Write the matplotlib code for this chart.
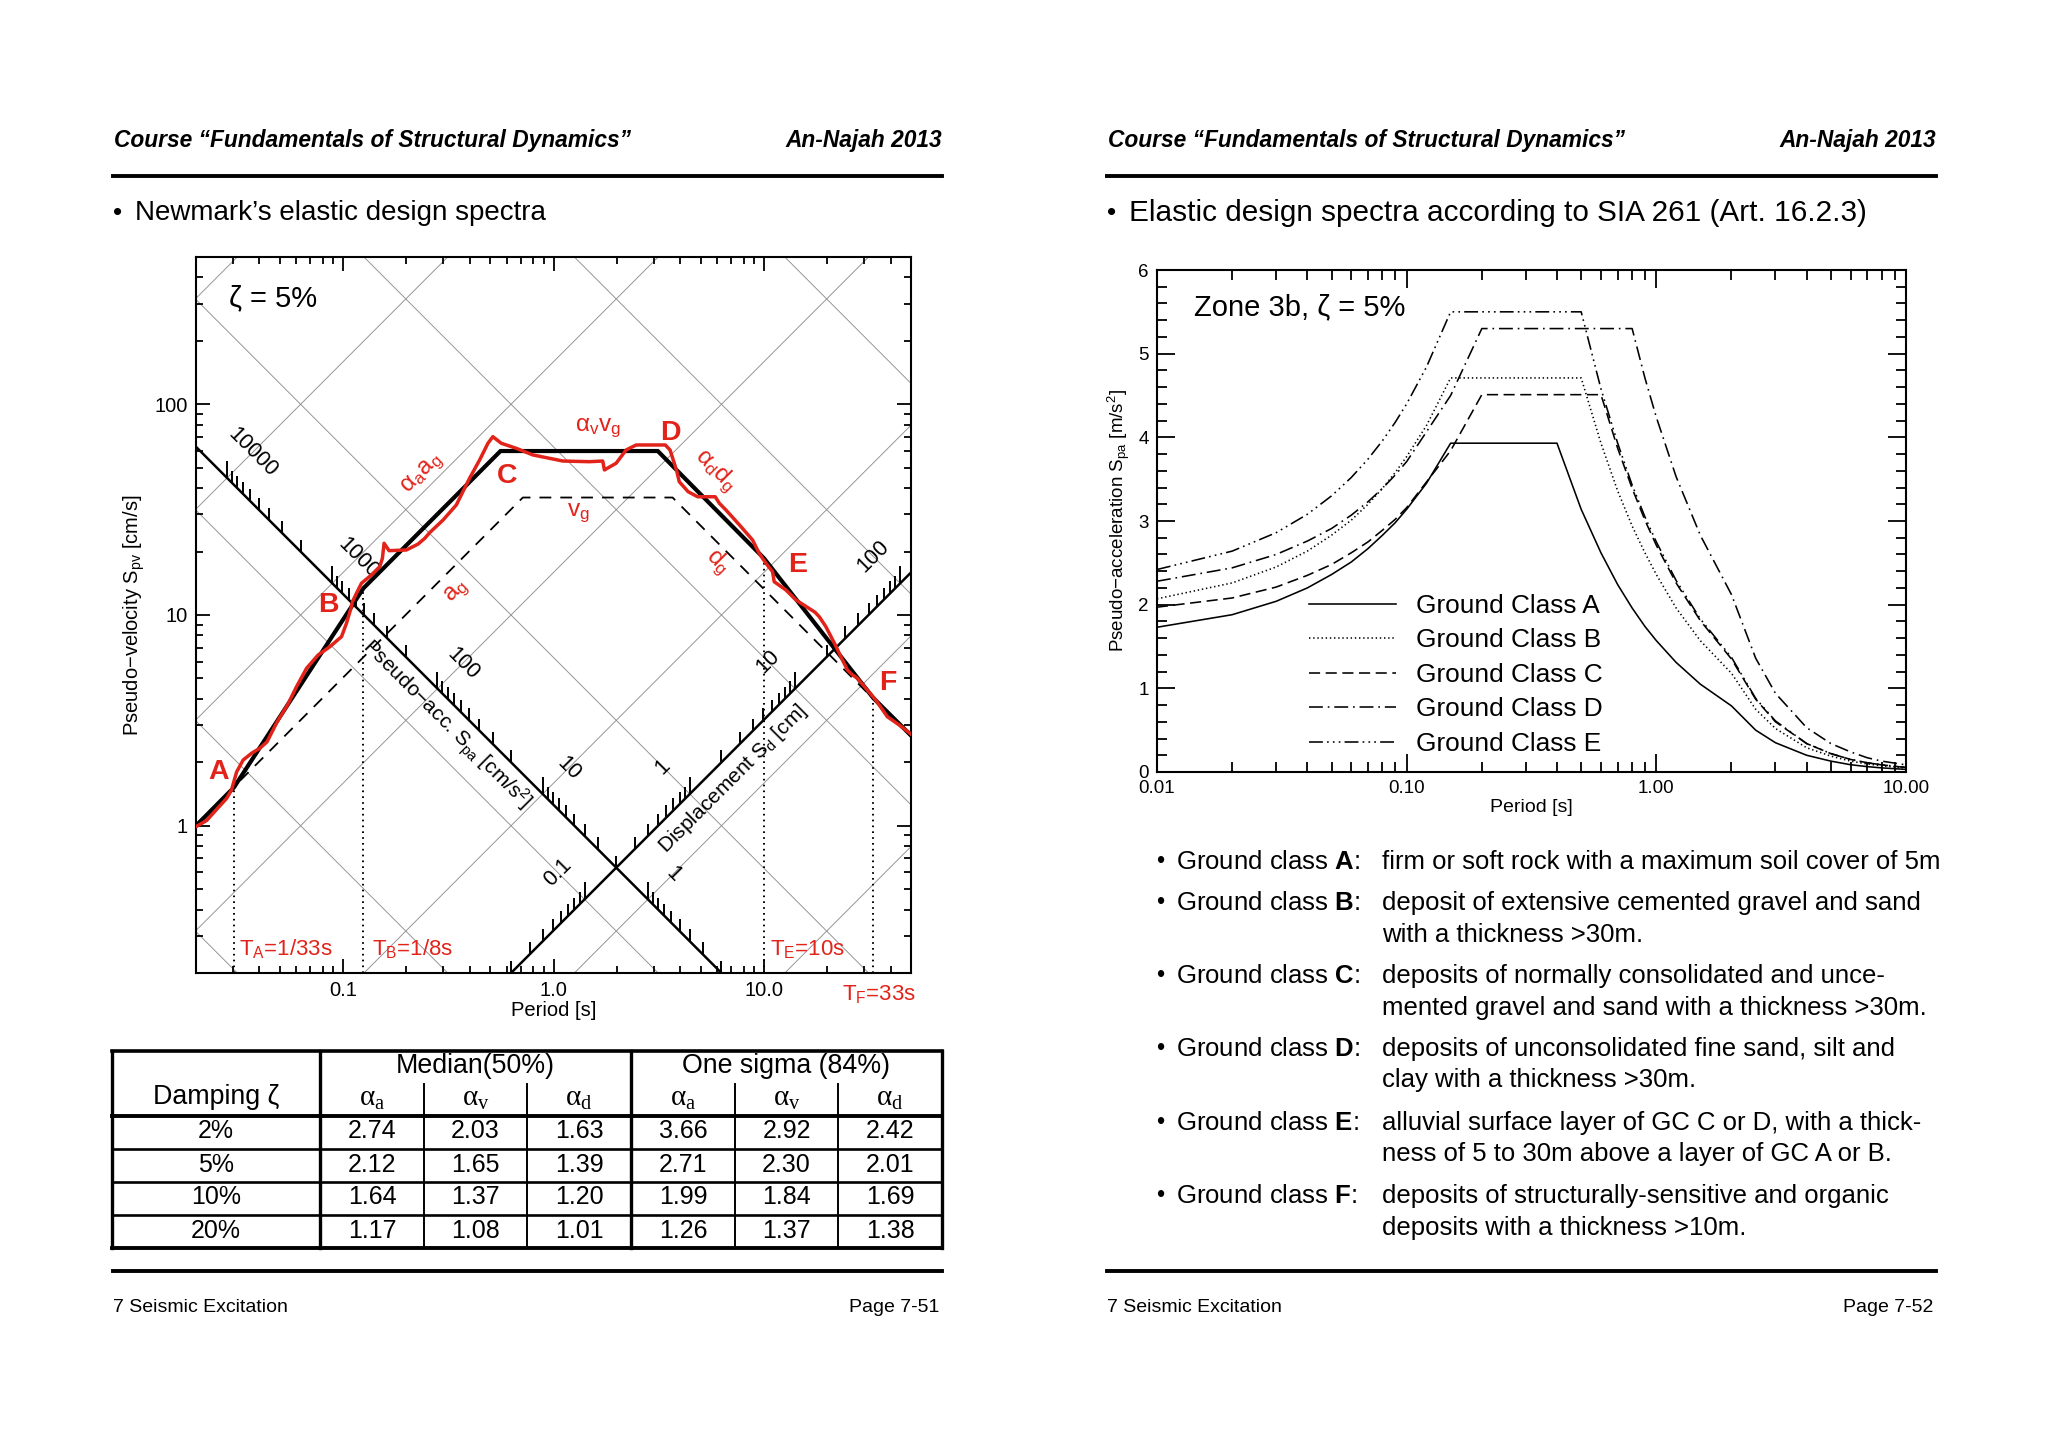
import numpy as np
import matplotlib
matplotlib.use('Agg')
import matplotlib.pyplot as plt
from matplotlib.lines import Line2D
from matplotlib.ticker import FixedLocator, FixedFormatter, LogLocator, MultipleLocator, NullFormatter

plt.rcParams['font.family'] = ['Liberation Sans', 'DejaVu Sans']
plt.rcParams['mathtext.fontset'] = 'custom'
plt.rcParams['mathtext.rm'] = 'Liberation Sans'
plt.rcParams['mathtext.it'] = 'Liberation Sans:italic'
plt.rcParams['mathtext.bf'] = 'Liberation Sans:bold'
plt.rcParams['lines.scale_dashes'] = False

# ---------------- data: Newmark tripartite chart ----------------
T_LIM = [0.02, 50.0]
SPV_LIM = [0.2, 500.0]
SD_GRID = [0.001, 0.01, 0.1, 1, 10, 100, 1000]          # cm
SPA_GRID = [0.1, 1, 10, 100, 1000, 10000, 100000]        # cm/s^2
SD_AXIS = 0.2      # cm, line carrying the pseudo-acc. scale
SPA_AXIS = 2.0     # cm/s^2, line carrying the displacement scale
ACC_LABELS = [1, 10, 100, 1000, 10000]
DISP_LABELS = [0.1, 1, 10, 100]

NEWMARK_T = [0.02, 1/33, 1/8, 0.56, 3.13, 10.0, 33.0, 50.0]
NEWMARK_SPV = [1.0, 1.52, 13.4, 60.0, 60.0, 18.6, 4.05, 2.68]
GROUND_T = [0.02, 0.715, 3.68, 50.0]
GROUND_SPV = [1.01, 36.1, 36.1, 2.65]
MARK_T = [1/33, 1/8, 10.0, 33.0]
MARK_SPV = [1.52, 13.4, 18.6, 4.05]

RED_T = [0.02, 0.0225, 0.0242, 0.028, 0.0295, 0.0312, 0.0335, 0.0368, 0.0402, 0.0435,
         0.0485, 0.0545, 0.0601, 0.0671, 0.0761, 0.0865, 0.0983, 0.1038, 0.1084, 0.1108,
         0.1158, 0.1223, 0.1364, 0.1494, 0.1538, 0.1566, 0.1654, 0.200, 0.227, 0.2443,
         0.258, 0.2983, 0.3454, 0.3711, 0.3994, 0.4455, 0.488, 0.515, 0.5648, 0.6654,
         0.7976, 1.107, 1.482, 1.714, 1.746, 1.984, 2.214, 2.47, 3.40, 3.58,
         3.85, 3.96, 4.36, 4.84, 5.87, 6.14, 6.6, 7.64, 8.83, 9.5,
         10.22, 10.99, 11.19, 12.72, 14.19, 17.5, 18.31, 19.7, 21.7, 23.61,
         24.95, 26.34, 27.8, 30.5, 34.0, 38.6, 43.9, 50.0]
RED_SPV = [0.99, 1.06, 1.15, 1.35, 1.48, 1.80, 2.05, 2.21, 2.33, 2.50,
           3.10, 3.75, 4.57, 5.59, 6.46, 7.07, 7.89, 9.14, 10.56, 11.57,
           12.68, 14.15, 15.49, 16.96, 18.59, 21.9, 20.2, 20.35, 21.7, 23.1,
           24.6, 28.2, 33.3, 38.5, 44.6, 54.4, 65.3, 70.2, 65.3, 61.8,
           57.5, 53.8, 53.4, 53.8, 48.8, 52.5, 60.7, 64.1, 64.1, 60.7,
           48.3, 42.9, 38.5, 36.4, 36.4, 33.9, 31.5, 26.8, 22.7, 19.6,
           17.6, 16.06, 14.39, 13.14, 11.79, 10.3, 9.82, 8.8, 7.3, 6.12,
           5.48, 5.2, 5.01, 4.49, 3.95, 3.29, 3.01, 2.72]

# ---------------- data: damping table ----------------
DAMPING = ['2%', '5%', '10%', '20%']
MED_A = [2.74, 2.12, 1.64, 1.17]
MED_V = [2.03, 1.65, 1.37, 1.08]
MED_D = [1.63, 1.39, 1.20, 1.01]
SIG_A = [3.66, 2.71, 1.99, 1.26]
SIG_V = [2.92, 2.30, 1.84, 1.37]
SIG_D = [2.42, 2.01, 1.69, 1.38]

# ---------------- data: SIA 261 spectra ----------------
T_A = [0.01, 0.02, 0.03, 0.04, 0.05, 0.06, 0.07, 0.08, 0.09, 0.10, 0.12, 0.15, 0.40, 0.50, 0.60,
       0.70, 0.80, 0.90, 1.0, 1.2, 1.5, 2.0, 2.5, 3.0, 4.0, 5.0, 6.0, 7.0, 8.0, 10.0]
SE_A = [1.73, 1.88, 2.04, 2.20, 2.36, 2.51, 2.67, 2.83, 2.98, 3.14, 3.45, 3.93, 3.93, 3.14, 2.62,
        2.24, 1.96, 1.74, 1.57, 1.31, 1.05, 0.79, 0.50, 0.35, 0.20, 0.13, 0.087, 0.064, 0.049, 0.031]
T_B = [0.01, 0.02, 0.03, 0.04, 0.05, 0.06, 0.07, 0.08, 0.09, 0.10, 0.12, 0.15, 0.50, 0.60,
       0.70, 0.80, 0.90, 1.0, 1.2, 1.5, 2.0, 2.5, 3.0, 4.0, 5.0, 6.0, 7.0, 8.0, 10.0]
SE_B = [2.07, 2.26, 2.45, 2.64, 2.83, 3.01, 3.20, 3.39, 3.58, 3.77, 4.14, 4.71, 4.71, 3.93,
        3.36, 2.94, 2.62, 2.36, 1.96, 1.57, 1.18, 0.75, 0.52, 0.29, 0.19, 0.13, 0.096, 0.074, 0.047]
T_C = [0.01, 0.02, 0.03, 0.04, 0.05, 0.06, 0.07, 0.08, 0.09, 0.10, 0.15, 0.20, 0.60,
       0.70, 0.80, 0.90, 1.0, 1.2, 1.5, 2.0, 2.5, 3.0, 4.0, 5.0, 6.0, 7.0, 8.0, 10.0]
SE_C = [1.97, 2.08, 2.21, 2.35, 2.48, 2.62, 2.75, 2.89, 3.02, 3.16, 3.84, 4.51, 4.51,
        3.87, 3.39, 3.01, 2.71, 2.26, 1.81, 1.35, 0.87, 0.60, 0.34, 0.22, 0.15, 0.11, 0.085, 0.054]
T_D = [0.01, 0.02, 0.03, 0.04, 0.05, 0.06, 0.07, 0.08, 0.09, 0.10, 0.15, 0.20, 0.80,
       0.90, 1.0, 1.2, 1.5, 2.0, 2.5, 3.0, 4.0, 5.0, 6.0, 7.0, 8.0, 10.0]
SE_D = [2.28, 2.44, 2.60, 2.76, 2.91, 3.07, 3.23, 3.39, 3.55, 3.71, 4.50, 5.30, 5.30,
        4.71, 4.24, 3.53, 2.83, 2.12, 1.36, 0.94, 0.53, 0.34, 0.24, 0.17, 0.13, 0.085]
T_E = [0.01, 0.02, 0.03, 0.04, 0.05, 0.06, 0.07, 0.08, 0.09, 0.10, 0.12, 0.15, 0.50, 0.60,
       0.70, 0.80, 0.90, 1.0, 1.2, 1.5, 2.0, 2.5, 3.0, 4.0, 5.0, 6.0, 7.0, 8.0, 10.0]
SE_E = [2.42, 2.64, 2.86, 3.08, 3.30, 3.52, 3.74, 3.96, 4.18, 4.40, 4.84, 5.50, 5.50, 4.58,
        3.93, 3.43, 3.05, 2.75, 2.29, 1.83, 1.37, 0.88, 0.61, 0.34, 0.22, 0.15, 0.11, 0.086, 0.055]
CLASS_NAMES = ['Ground Class A', 'Ground Class B', 'Ground Class C', 'Ground Class D', 'Ground Class E']

GC_LETTERS = ['A', 'B', 'C', 'D', 'E', 'F']
GC_LINE1 = ['firm or soft rock with a maximum soil cover of 5m',
            'deposit of extensive cemented gravel and sand',
            'deposits of normally consolidated and unce-',
            'deposits of unconsolidated fine sand, silt and',
            'alluvial surface layer of GC C or D, with a thick-',
            'deposits of structurally-sensitive and organic']
GC_LINE2 = ['', 'with a thickness >30m.', 'mented gravel and sand with a thickness >30m.',
            'clay with a thickness >30m.', 'ness of 5 to 30m above a layer of GC A or B.',
            'deposits with a thickness >10m.']

# ---------------- figure helpers ----------------
W, H, DPI = 2048, 1448, 100
fig = plt.figure(figsize=(W / DPI, H / DPI), dpi=DPI)
fig.patch.set_facecolor('white')
RED = '#E2231A'


def fx(x):
    return x / W


def fy(y):
    return 1 - y / H


def ftext(x, y, s, **kw):
    return fig.text(fx(x), fy(y), s, **kw)


def fline(x0, y0, x1, y1, lw):
    fig.add_artist(Line2D([fx(x0), fx(x1)], [fy(y0), fy(y1)], lw=lw, color='black',
                          solid_capstyle='projecting'))


# ---------------- page headers / footers ----------------
for x0, x1 in [(113, 942), (1107, 1936)]:
    ftext(x0 + 1, 141, 'Course \u201cFundamentals of Structural Dynamics\u201d', fontsize=16.4,
          fontweight='bold', style='italic', ha='left', va='center')
    ftext(x1, 141, 'An-Najah 2013', fontsize=16.4, fontweight='bold', style='italic',
          ha='right', va='center')
    fline(x0, 176, x1, 176, 2.8)
    fline(x0, 1271, x1, 1271, 2.8)
    ftext(x0, 1308, '7 Seismic Excitation', fontsize=14, ha='left', va='center')

ftext(939, 1308, 'Page 7-51', fontsize=14, ha='right', va='center')
ftext(1933, 1308, 'Page 7-52', fontsize=14, ha='right', va='center')

ftext(113, 213, '\u2022', fontsize=19, ha='left', va='center')
ftext(135, 213, 'Newmark\u2019s elastic design spectra', fontsize=20, ha='left', va='center')
ftext(1107, 213, '\u2022', fontsize=19, ha='left', va='center')
ftext(1129, 213, 'Elastic design spectra according to SIA 261 (Art. 16.2.3)', fontsize=21.4,
      ha='left', va='center')

# ---------------- left chart ----------------
axL = fig.add_axes([fx(196), fy(973), (911 - 196) / W, (973 - 257) / H])
axL.set_xscale('log')
axL.set_yscale('log')
axL.set_xlim(*T_LIM)
axL.set_ylim(*SPV_LIM)

Tline = np.array(T_LIM)
for sd in SD_GRID:
    axL.plot(Tline, 2 * np.pi * sd / Tline, color='#8f8f8f', lw=0.65, zorder=1)
for sa in SPA_GRID:
    axL.plot(Tline, sa * Tline / (2 * np.pi), color='#8f8f8f', lw=0.65, zorder=1)

# diagonal axes
axL.plot(Tline, 2 * np.pi * SD_AXIS / Tline, color='black', lw=1.8, zorder=2)
axL.plot(Tline, SPA_AXIS * Tline / (2 * np.pi), color='black', lw=1.8, zorder=2)


def acc_point(a):
    return 2 * np.pi * np.sqrt(SD_AXIS / a), np.sqrt(a * SD_AXIS)


def disp_point(d):
    return 2 * np.pi * np.sqrt(d / SPA_AXIS), np.sqrt(d * SPA_AXIS)


def in_box(t, s):
    return (T_LIM[0] <= t <= T_LIM[1]) and (SPV_LIM[0] <= s <= SPV_LIM[1])


for fn in (acc_point, disp_point):
    maj, mnr = [], []
    for k in range(-3, 6):
        for m in range(1, 10):
            t, s = fn(m * 10.0 ** k)
            if in_box(t, s):
                (maj if m == 1 else mnr).append((t, s))
    for pts, ln in ((maj, 12.5), (mnr, 9.0)):
        if pts:
            pts = np.array(pts)
            axL.plot(pts[:, 0], pts[:, 1], ls='none', marker=2, markersize=ln,
                     markeredgewidth=1.4, color='black', zorder=2)

for a in ACC_LABELS:
    t, s = acc_point(a)
    axL.annotate('{:g}'.format(a), xy=(t, s), xytext=(26, 25), textcoords='offset pixels',
                 rotation=-45, rotation_mode='anchor', ha='center', va='center', fontsize=15.5)
for d in DISP_LABELS:
    t, s = disp_point(d)
    axL.annotate('{:g}'.format(d), xy=(t, s), xytext=(-27, 27), textcoords='offset pixels',
                 rotation=45, rotation_mode='anchor', ha='center', va='center', fontsize=15.5)

t0 = 0.36
axL.annotate('Pseudo\u2212acc. S$_\\mathregular{pa}$ [cm/s$^\\mathregular{2}$]',
             xy=(t0, 2 * np.pi * SD_AXIS / t0), xytext=(-14, -14), textcoords='offset pixels',
             rotation=-45, rotation_mode='anchor', ha='center', va='center', fontsize=15)
t1 = 6.1
axL.annotate('Displacement S$_\\mathregular{d}$ [cm]',
             xy=(t1, SPA_AXIS * t1 / (2 * np.pi)), xytext=(14, -14), textcoords='offset pixels',
             rotation=45, rotation_mode='anchor', ha='center', va='center', fontsize=15)

# spectra
axL.plot(GROUND_T, GROUND_SPV, color='black', lw=1.3, ls=(0, (8.5, 6.5)), zorder=3)
axL.vlines(MARK_T, SPV_LIM[0], MARK_SPV, colors='black', lw=1.4, linestyles=[(0, (1.2, 3.0))],
           zorder=3)
axL.plot(NEWMARK_T, NEWMARK_SPV, color='black', lw=3.0, zorder=4, solid_joinstyle='miter')
axL.plot(RED_T, RED_SPV, color=RED, lw=2.5, zorder=5)

axL.xaxis.set_major_locator(FixedLocator([0.1, 1, 10]))
axL.xaxis.set_major_formatter(FixedFormatter(['0.1', '1.0', '10.0']))
axL.xaxis.set_minor_locator(LogLocator(base=10, subs=np.arange(2, 10)))
axL.xaxis.set_minor_formatter(NullFormatter())
axL.yaxis.set_major_locator(FixedLocator([1, 10, 100]))
axL.yaxis.set_major_formatter(FixedFormatter(['1', '10', '100']))
axL.yaxis.set_minor_locator(LogLocator(base=10, subs=np.arange(2, 10)))
axL.yaxis.set_minor_formatter(NullFormatter())
axL.tick_params(which='both', direction='in', top=True, right=True, width=1.3, labelsize=14.5)
axL.tick_params(which='major', length=10, pad=6)
axL.tick_params(which='minor', length=5)
for sp in axL.spines.values():
    sp.set_linewidth(1.5)

# labels on left chart (figure pixels)
ftext(229, 298, '\u03b6 = 5%', fontsize=21, ha='left', va='center')
for ch, (x, y) in zip('ABCDEF', [(219, 772), (328, 605), (507, 476), (670, 433), (798, 565),
                                  (888, 683)]):
    ftext(x, y, ch, fontsize=20.5, fontweight='bold', color=RED, ha='center', va='center')
GFS = 17.5
ftext(423, 475, '\u03b1$_\\mathregular{a}$a$_\\mathregular{g}$', fontsize=GFS, color=RED,
      rotation=45, ha='center', va='center', rotation_mode='anchor')
ftext(457, 592, 'a$_\\mathregular{g}$', fontsize=GFS, color=RED, rotation=45,
      ha='center', va='center', rotation_mode='anchor')
ftext(598, 428, '\u03b1$_\\mathregular{v}$v$_\\mathregular{g}$', fontsize=GFS, color=RED,
      ha='center', va='center')
ftext(578, 513, 'v$_\\mathregular{g}$', fontsize=GFS, color=RED, ha='center', va='center')
ftext(715, 470, '\u03b1$_\\mathregular{d}$d$_\\mathregular{g}$', fontsize=GFS, color=RED,
      rotation=-45, ha='center', va='center', rotation_mode='anchor')
ftext(717, 562, 'd$_\\mathregular{g}$', fontsize=GFS, color=RED, rotation=-45,
      ha='center', va='center', rotation_mode='anchor')
ftext(239, 955, 'T$_\\mathregular{A}$=1/33s', fontsize=16, color=RED, ha='left', va='baseline')
ftext(372, 955, 'T$_\\mathregular{B}$=1/8s', fontsize=16, color=RED, ha='left', va='baseline')
ftext(770, 955, 'T$_\\mathregular{E}$=10s', fontsize=16, color=RED, ha='left', va='baseline')
ftext(842, 1000, 'T$_\\mathregular{F}$=33s', fontsize=16, color=RED, ha='left', va='baseline')
ftext(554, 1010, 'Period [s]', fontsize=14.5, ha='center', va='center')
ftext(134, 615, 'Pseudo\u2212velocity S$_\\mathregular{pv}$ [cm/s]', fontsize=14.5,
      rotation=90, ha='center', va='center')

# ---------------- table ----------------
COLS = [112, 320, 424, 527, 631, 735, 838, 942]
ROWS = [1051, 1084, 1116, 1149, 1182, 1215, 1248]
fline(COLS[0], ROWS[0], COLS[-1], ROWS[0], 2.6)
fline(COLS[0], ROWS[2], COLS[-1], ROWS[2], 2.8)
for r in ROWS[3:6]:
    fline(COLS[0], r, COLS[-1], r, 1.9)
fline(COLS[0], ROWS[-1], COLS[-1], ROWS[-1], 2.8)
for c in [COLS[0], COLS[1], COLS[4], COLS[7]]:
    fline(c, ROWS[0], c, ROWS[-1], 2.4)
for c in [COLS[2], COLS[3], COLS[5], COLS[6]]:
    fline(c, ROWS[1], c, ROWS[-1], 1.4)

TFS = 18
HFS = 19.3
ftext((COLS[0] + COLS[1]) / 2, 1097, 'Damping \u03b6', fontsize=HFS, ha='center', va='center')
ftext((COLS[1] + COLS[4]) / 2, 1066, 'Median(50%)', fontsize=HFS, ha='center', va='center')
ftext((COLS[4] + COLS[7]) / 2, 1066, 'One sigma (84%)', fontsize=HFS, ha='center', va='center')
for i, sub in enumerate(['a', 'v', 'd', 'a', 'v', 'd']):
    ftext((COLS[i + 1] + COLS[i + 2]) / 2, 1099, '\u03b1$_\\mathregular{%s}$' % sub,
          fontsize=21, ha='center', va='center', family=['Liberation Serif', 'DejaVu Serif'])
for j in range(4):
    yc = (ROWS[j + 2] + ROWS[j + 3]) / 2 - 1
    ftext((COLS[0] + COLS[1]) / 2, yc, DAMPING[j], fontsize=TFS, ha='center', va='center')
    vals = [MED_A[j], MED_V[j], MED_D[j], SIG_A[j], SIG_V[j], SIG_D[j]]
    for i, v in enumerate(vals):
        ftext((COLS[i + 1] + COLS[i + 2]) / 2, yc, '{:.2f}'.format(v), fontsize=TFS,
              ha='center', va='center')

# ---------------- right chart ----------------
axR = fig.add_axes([fx(1157), fy(772), (1906 - 1157) / W, (772 - 270) / H])
axR.set_xscale('log')
axR.set_xlim(0.01, 10)
axR.set_ylim(0, 6)
styles = ['-', (0, (1.0, 2.0)), (0, (8, 4)), (0, (10, 3.5, 1.2, 3.5)),
          (0, (10, 3, 1.2, 3, 1.2, 3, 1.2, 3))]
handles = []
for (tt, ss), st, name in zip([(T_A, SE_A), (T_B, SE_B), (T_C, SE_C), (T_D, SE_D), (T_E, SE_E)],
                              styles, CLASS_NAMES):
    h, = axR.plot(tt, ss, color='black', lw=1.15, ls=st, label=name)
    handles.append(h)
axR.legend(handles=handles, loc='upper left', bbox_to_anchor=(0.203, 0.355), frameon=False,
           fontsize=18.9, handlelength=3.33, handletextpad=0.75, labelspacing=0.4,
           borderpad=0, borderaxespad=0)
axR.xaxis.set_major_locator(FixedLocator([0.01, 0.1, 1, 10]))
axR.xaxis.set_major_formatter(FixedFormatter(['0.01', '0.10', '1.00', '10.00']))
axR.xaxis.set_minor_locator(LogLocator(base=10, subs=np.arange(2, 10)))
axR.xaxis.set_minor_formatter(NullFormatter())
axR.yaxis.set_major_locator(MultipleLocator(1))
axR.yaxis.set_minor_locator(MultipleLocator(0.2))
axR.tick_params(which='both', direction='in', top=True, right=True, width=1.3, labelsize=13.5)
axR.tick_params(which='major', length=13, pad=6)
axR.tick_params(which='minor', length=7)
for sp in axR.spines.values():
    sp.set_linewidth(1.5)
ftext(1194, 307, 'Zone 3b, \u03b6 = 5%', fontsize=21, ha='left', va='center')
ftext(1531, 807, 'Period [s]', fontsize=14, ha='center', va='center')
ftext(1119, 520, 'Pseudo\u2212acceleration S$_\\mathregular{pa}$ [m/s$^\\mathregular{2}$]',
      fontsize=13.5, rotation=90, ha='center', va='center')

# ---------------- ground class list ----------------
LINE_Y = [862, 903, 976, 1049, 1123, 1196]
for y, letter, l1, l2 in zip(LINE_Y, GC_LETTERS, GC_LINE1, GC_LINE2):
    ftext(1156, y, '\u2022', fontsize=17, ha='left', va='center')
    ftext(1176, y, 'Ground class $\\mathbf{%s}$:' % letter, fontsize=18.5, ha='left', va='center')
    ftext(1382, y, l1, fontsize=18.5, ha='left', va='center')
    if l2:
        ftext(1382, y + 31.5, l2, fontsize=18.5, ha='left', va='center')

fig.savefig('out.png', dpi=DPI, facecolor='white')
